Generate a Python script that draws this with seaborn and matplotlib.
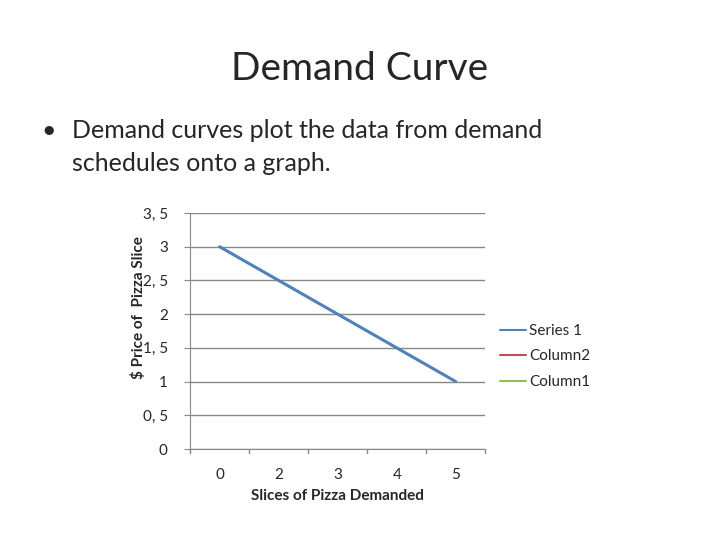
import matplotlib
matplotlib.use("Agg")
import matplotlib.pyplot as plt
import seaborn as sns
import pandas as pd
from matplotlib.lines import Line2D

categories = ["0", "2", "3", "4", "5"]
series1 = [3, 2.5, 2, 1.5, 1]
yticks = [0, 0.5, 1, 1.5, 2, 2.5, 3, 3.5]
ylabels = ["0", "0, 5", "1", "1, 5", "2", "2, 5", "3", "3, 5"]

sns.set_style("white")
plt.rcParams['font.family'] = ['Lato', 'DejaVu Sans']

fig = plt.figure(figsize=(7.2, 5.4), dpi=100)
fig.text(0.5, 0.873, "Demand Curve", ha="center", va="center", fontsize=28)
fig.text(0.058, 0.758, "•", ha="left", va="center", fontsize=18)
fig.text(0.1, 0.758, "Demand curves plot the data from demand", ha="left", va="center", fontsize=18)
fig.text(0.1, 0.697, "schedules onto a graph.", ha="left", va="center", fontsize=18)

ax = fig.add_axes([0.264, 0.1685, 0.41, 0.437])
df = pd.DataFrame({"x": range(len(categories)), "y": series1})
sns.lineplot(data=df, x="x", y="y", ax=ax, color="#4F81BD", linewidth=2.2)
ax.set_xlim(-0.5, 4.5)
ax.set_ylim(0, 3.5)
ax.set_yticks(yticks)
ax.set_yticklabels(ylabels, fontsize=11)
ax.set_xticks(range(len(categories)))
ax.set_xticklabels(categories, fontsize=11)
ax.tick_params(axis="x", length=0, pad=14)
ax.tick_params(axis="y", length=4, left=True, color="#888888", pad=12)
for v in [i - 0.5 for i in range(len(categories) + 1)]:
    ax.plot([v, v], [0, -0.06], color="#888888", lw=1, clip_on=False)
ax.grid(axis="y", color="#888888", lw=1)
for s in ["top", "right"]:
    ax.spines[s].set_visible(False)
for s in ["left", "bottom"]:
    ax.spines[s].set_color("#888888")
ax.set_xlabel("Slices of Pizza Demanded", fontsize=11, fontweight="bold")
ax.xaxis.set_label_coords(0.5, -0.17)
ax.set_ylabel("$ Price of  Pizza Slice", fontsize=11, fontweight="bold")
ax.yaxis.set_label_coords(-0.15, 0.6)

handles = [Line2D([], [], color="#4F81BD", lw=1.5),
           Line2D([], [], color="#C0504D", lw=1.5),
           Line2D([], [], color="#9BBB59", lw=1.5)]
fig.legend(handles, ["Series 1", "Column2", "Column1"], loc="center left",
           bbox_to_anchor=(0.675, 0.34), frameon=False, fontsize=11,
           handlelength=1.7, handletextpad=0.2, labelspacing=0.75)

fig.savefig("out.png", dpi=100)
